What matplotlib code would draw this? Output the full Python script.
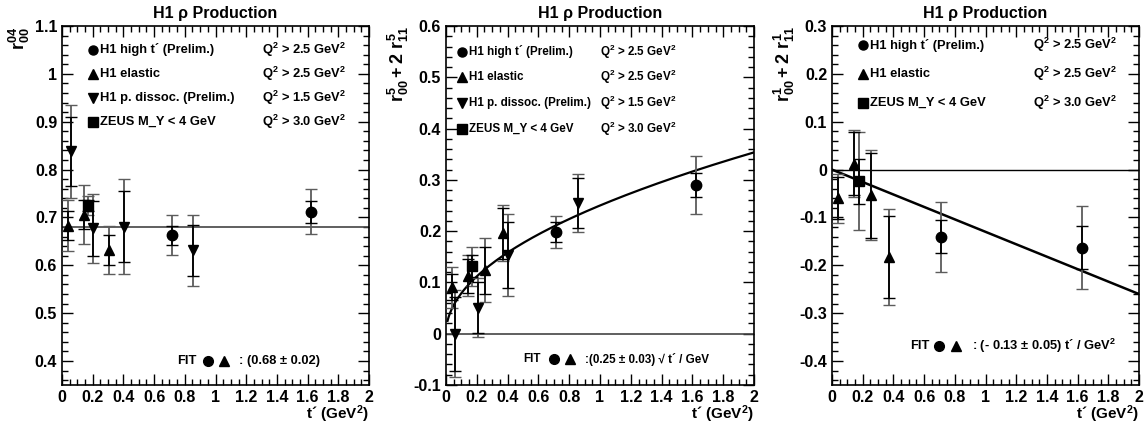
import matplotlib
matplotlib.use("Agg")
import matplotlib.pyplot as plt
from matplotlib.ticker import MultipleLocator, FuncFormatter
from matplotlib import font_manager
import numpy as np

plt.rcParams['font.family'] = ['Liberation Sans', 'DejaVu Sans']
plt.rcParams['mathtext.fontset'] = 'custom'
plt.rcParams['mathtext.rm'] = 'Liberation Sans:bold'
plt.rcParams['mathtext.it'] = 'Liberation Sans:bold'
plt.rcParams['mathtext.bf'] = 'Liberation Sans:bold'

_names = {f.name for f in font_manager.fontManager.ttflist}
HAS_NARROW = 'Liberation Sans Narrow' in _names
NARROW = ['Liberation Sans Narrow', 'Liberation Sans', 'DejaVu Sans'] if HAS_NARROW \
    else ['Liberation Sans', 'DejaVu Sans']

# ---------------- Panel 1: r^04_00 ----------------
p1_circ_t = [0.715, 1.625]
p1_circ_v = [0.663, 0.712]
p1_circ_stat = [0.020, 0.023]
p1_circ_tot = [0.042, 0.047]

p1_up_t = [0.041, 0.141, 0.303]
p1_up_v = [0.683, 0.706, 0.632]
p1_up_stat = [0.030, 0.031, 0.032]
p1_up_tot = [0.054, 0.062, 0.050]

p1_dn_t = [0.059, 0.204, 0.403, 0.852]
p1_dn_v = [0.838, 0.677, 0.681, 0.631]
p1_dn_stat = [0.072, 0.058, 0.075, 0.053]
p1_dn_tot = [0.098, 0.072, 0.100, 0.075]

p1_sq_t = [0.167]
p1_sq_v = [0.725]
p1_sq_stat = [0.012]
p1_sq_tot = [0.020]

p1_fit = 0.68

# ---------------- Panel 2: r^5_00 + 2 r^5_11 ----------------
p2_circ_t = [0.713, 1.625]
p2_circ_v = [0.198, 0.290]
p2_circ_stat = [0.019, 0.024]
p2_circ_tot = [0.031, 0.057]

p2_up_t = [0.041, 0.143, 0.256, 0.373]
p2_up_v = [0.091, 0.113, 0.124, 0.196]
p2_up_stat = [0.026, 0.033, 0.046, 0.050]
p2_up_tot = [0.040, 0.040, 0.062, 0.055]

p2_dn_t = [0.061, 0.206, 0.403, 0.856]
p2_dn_v = [0.000, 0.051, 0.154, 0.255]
p2_dn_stat = [0.072, 0.050, 0.064, 0.048]
p2_dn_tot = [0.085, 0.058, 0.080, 0.056]

p2_sq_t = [0.169]
p2_sq_v = [0.132]
p2_sq_stat = [0.022]
p2_sq_tot = [0.038]

p2_fit_coef = 0.25

# ---------------- Panel 3: r^1_00 + 2 r^1_11 ----------------
p3_circ_t = [0.708, 1.629]
p3_circ_v = [-0.140, -0.163]
p3_circ_stat = [0.035, 0.045]
p3_circ_tot = [0.073, 0.087]

p3_up_t = [0.041, 0.141, 0.252, 0.373]
p3_up_v = [-0.060, 0.012, -0.054, -0.182]
p3_up_stat = [0.044, 0.066, 0.088, 0.086]
p3_up_tot = [0.051, 0.070, 0.094, 0.100]

p3_sq_t = [0.176]
p3_sq_v = [-0.024]
p3_sq_stat = [0.047]
p3_sq_tot = [0.102]

p3_fit_slope = -0.13

title = "H1 \u03c1 Production"
xlabel = "t\u00b4 (GeV$^2$)"

fig = plt.figure(figsize=(11.48, 4.25), dpi=100)
W, H = 1148.0, 425.0
axes_px = [(62, 369), (446, 754), (832, 1139)]
top_px, bot_px = 26, 385
axs = [fig.add_axes([l / W, 1 - bot_px / H, (r - l) / W, (bot_px - top_px) / H]) for l, r in axes_px]

GRAY = '#5c5c5c'
MS = 6.5


def draw_series(ax, t, v, stat, tot, marker, ms=MS, total_color=GRAY):
    ax.errorbar(t, v, yerr=tot, fmt='none', ecolor=total_color, elinewidth=1.3,
                capsize=4, capthick=1.0, zorder=3)
    ax.errorbar(t, v, yerr=stat, fmt='none', ecolor='black', elinewidth=1.3,
                capsize=4, capthick=1.0, zorder=4)
    ax.plot(t, v, linestyle='none', marker=marker, color='black', markersize=ms, zorder=5)


def style(ax, ylim, ymajor, yminor, ylabel):
    ax.set_xlim(0, 2)
    ax.set_ylim(*ylim)
    ax.xaxis.set_major_locator(MultipleLocator(0.2))
    ax.xaxis.set_minor_locator(MultipleLocator(0.05))
    ax.yaxis.set_major_locator(MultipleLocator(ymajor))
    ax.yaxis.set_minor_locator(MultipleLocator(yminor))
    fmt = FuncFormatter(lambda x, p: ('%g' % round(x, 3)))
    ax.xaxis.set_major_formatter(fmt)
    ax.yaxis.set_major_formatter(fmt)
    ax.tick_params(which='both', direction='in', top=True, right=True, labelsize=11.5)
    ax.tick_params(which='major', length=8, width=1)
    ax.tick_params(which='minor', length=4, width=1)
    for lab in ax.get_xticklabels() + ax.get_yticklabels():
        lab.set_fontweight('bold')
    for s in ax.spines.values():
        s.set_linewidth(1.2)
    ax.set_title(title, fontsize=11.5, fontweight='bold', pad=6)
    ax.set_xlabel(xlabel, fontsize=11, fontweight='bold', ha='right', va='top')
    ax.xaxis.set_label_coords(1.0, -0.05)
    ax.set_ylabel(ylabel, fontsize=13, fontweight='bold', loc='top', labelpad=2)


def legend_rows(ax, xm, xt, xq, ys, entries, fs=9.3, family=None):
    kw = {} if family is None else {'family': family}
    for y, (mk, lab, q) in zip(ys, entries):
        ax.plot([xm], [y], marker=mk, color='black', markersize=6.5, linestyle='none')
        ax.text(xt, y, lab, fontsize=fs, fontweight='bold', va='center', ha='left', **kw)
        ax.text(xq, y, q, fontsize=fs, fontweight='bold', va='center', ha='left', **kw)


def fit_row(ax, xf, xc, xtr, xtxt, y, txt, fs=9.3, family=None):
    kw = {} if family is None else {'family': family}
    ax.text(xf, y, "FIT", fontsize=fs, fontweight='bold', va='center', ha='left', **kw)
    ax.plot([xc], [y], marker='o', color='black', markersize=7, linestyle='none')
    ax.plot([xtr], [y], marker='^', color='black', markersize=6.5, linestyle='none')
    ax.text(xtxt, y, txt, fontsize=fs, fontweight='bold', va='center', ha='left', **kw)


Q25 = "Q$^2$ > 2.5 GeV$^2$"
Q15 = "Q$^2$ > 1.5 GeV$^2$"
Q30 = "Q$^2$ > 3.0 GeV$^2$"

# ---- Panel 1
ax = axs[0]
ax.axhline(p1_fit, color='#444444', lw=1.2, zorder=2)
draw_series(ax, p1_up_t, p1_up_v, p1_up_stat, p1_up_tot, '^')
draw_series(ax, p1_dn_t, p1_dn_v, p1_dn_stat, p1_dn_tot, 'v')
draw_series(ax, p1_sq_t, p1_sq_v, p1_sq_stat, p1_sq_tot, 's')
draw_series(ax, p1_circ_t, p1_circ_v, p1_circ_stat, p1_circ_tot, 'o', ms=7.5)
style(ax, (0.35, 1.1), 0.1, 0.02, "$r^{04}_{00}$")
legend_rows(ax, 0.2, 0.25, 1.30, [1.05, 1.0, 0.95, 0.90], [
    ('o', "H1 high t\u00b4 (Prelim.)", Q25),
    ('^', "H1 elastic", Q25),
    ('v', "H1 p. dissoc. (Prelim.)", Q15),
    ('s', "ZEUS M_Y < 4 GeV", Q30),
])
fit_row(ax, 0.75, 0.953, 1.053, 1.155, 0.40, ": (0.68 \u00b1 0.02)")

# ---- Panel 2
ax = axs[1]
ax.axhline(0, color='#444444', lw=1.2, zorder=2)
tt = np.linspace(0.01, 2.0, 300)
ax.plot(tt, p2_fit_coef * np.sqrt(tt), color='black', lw=1.6, zorder=2)
draw_series(ax, p2_up_t, p2_up_v, p2_up_stat, p2_up_tot, '^')
draw_series(ax, p2_dn_t, p2_dn_v, p2_dn_stat, p2_dn_tot, 'v')
draw_series(ax, p2_sq_t, p2_sq_v, p2_sq_stat, p2_sq_tot, 's')
draw_series(ax, p2_circ_t, p2_circ_v, p2_circ_stat, p2_circ_tot, 'o', ms=7.5)
style(ax, (-0.1, 0.6), 0.1, 0.02, "$r^{5}_{00} + 2\\ r^{5}_{11}$")
fs2 = 9.8 if HAS_NARROW else 8.4
legend_rows(ax, 0.102, 0.152, 1.0, [0.55, 0.50, 0.45, 0.40], [
    ('o', "H1 high t\u00b4 (Prelim.)", Q25),
    ('^', "H1 elastic", Q25),
    ('v', "H1 p. dissoc. (Prelim.)", Q15),
    ('s', "ZEUS M_Y < 4 GeV", Q30),
], fs=fs2, family=NARROW)
fit_row(ax, 0.503, 0.704, 0.802, 0.904, -0.05, ":(0.25 \u00b1 0.03) \u221a t\u00b4 / GeV", fs=fs2, family=NARROW)

# ---- Panel 3
ax = axs[2]
ax.axhline(0, color='black', lw=1.0, zorder=2)
tl = np.array([0.0, 2.0])
ax.plot(tl, p3_fit_slope * tl, color='black', lw=1.8, zorder=2)
draw_series(ax, p3_up_t, p3_up_v, p3_up_stat, p3_up_tot, '^')
draw_series(ax, p3_sq_t, p3_sq_v, p3_sq_stat, p3_sq_tot, 's')
draw_series(ax, p3_circ_t, p3_circ_v, p3_circ_stat, p3_circ_tot, 'o', ms=7.5)
style(ax, (-0.45, 0.3), 0.1, 0.02, "$r^{1}_{00} + 2\\ r^{1}_{11}$")
legend_rows(ax, 0.202, 0.25, 1.31, [0.26, 0.20, 0.14], [
    ('o', "H1 high t\u00b4 (Prelim.)", Q25),
    ('^', "H1 elastic", Q25),
    ('s', "ZEUS M_Y < 4 GeV", Q30),
])
fit_row(ax, 0.506, 0.70, 0.806, 0.914, -0.368, ": (- 0.13 \u00b1 0.05) t\u00b4 / GeV$^2$")

fig.savefig("out.png", dpi=100)
